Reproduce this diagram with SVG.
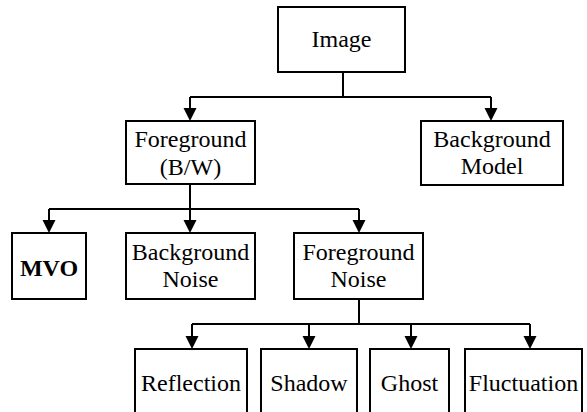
<svg xmlns="http://www.w3.org/2000/svg" width="587" height="412" viewBox="0 0 587 412">
<rect width="587" height="412" fill="#fff"/>
<g id="connectors">
<g fill="none" stroke="#000" stroke-width="2">
<path d="M343,72 V97"/>
<path d="M190,97 H491"/>
<path d="M190,97 V110"/>
<path d="M491,97 V110"/>
<path d="M190,184 V222"/>
<path d="M49,209 H359"/>
<path d="M49,209 V222"/>
<path d="M359,209 V222"/>
<path d="M359,299 V324"/>
<path d="M192,324 H530"/>
<path d="M192,324 V338"/>
<path d="M309,324 V338"/>
<path d="M411,324 V338"/>
<path d="M530,324 V338"/>
</g>
<g fill="#000">
<polygon points="183.5,108 196.5,108 190,121"/>
<polygon points="484.5,108 497.5,108 491,121"/>
<polygon points="183.5,220 196.5,220 190,233"/>
<polygon points="42.5,220 55.5,220 49,233"/>
<polygon points="352.5,220 365.5,220 359,233"/>
<polygon points="185.5,336 198.5,336 192,349"/>
<polygon points="302.5,336 315.5,336 309,349"/>
<polygon points="404.5,336 417.5,336 411,349"/>
<polygon points="523.5,336 536.5,336 530,349"/>
</g>
</g>
<g font-family="Liberation Serif" font-size="24" text-anchor="middle" fill="#000">
<g id="image"><rect fill="#fff" stroke="#000" stroke-width="2" x="278" y="7" width="127" height="65"/><text x="341.5" y="47">Image</text></g>
<g id="foreground"><rect fill="#fff" stroke="#000" stroke-width="2" x="126" y="121" width="129" height="63"/><text x="190.5" y="147">Foreground</text><text x="190.5" y="175">(B/W)</text></g>
<g id="background-model"><rect fill="#fff" stroke="#000" stroke-width="2" x="421" y="121" width="142" height="64"/><text x="492" y="147">Background</text><text x="492" y="174">Model</text></g>
<g id="mvo"><rect fill="#fff" stroke="#000" stroke-width="2" x="12" y="233" width="74" height="66"/><text font-weight="bold" x="49" y="276">MVO</text></g>
<g id="background-noise"><rect fill="#fff" stroke="#000" stroke-width="2" x="126" y="233" width="129" height="66"/><text x="190.5" y="260">Background</text><text x="190.5" y="287">Noise</text></g>
<g id="foreground-noise"><rect fill="#fff" stroke="#000" stroke-width="2" x="294" y="233" width="129" height="66"/><text x="358.5" y="260">Foreground</text><text x="358.5" y="287">Noise</text></g>
<g id="reflection"><rect fill="#fff" stroke="#000" stroke-width="2" x="135" y="349" width="112" height="80"/><text x="191" y="391">Reflection</text></g>
<g id="shadow"><rect fill="#fff" stroke="#000" stroke-width="2" x="261" y="349" width="96" height="80"/><text x="309" y="391">Shadow</text></g>
<g id="ghost"><rect fill="#fff" stroke="#000" stroke-width="2" x="370" y="349" width="79" height="80"/><text x="409.5" y="391">Ghost</text></g>
<g id="fluctuation"><rect fill="#fff" stroke="#000" stroke-width="2" x="465" y="349" width="117" height="80"/><text x="523.5" y="391">Fluctuation</text></g>
</g>
</svg>
